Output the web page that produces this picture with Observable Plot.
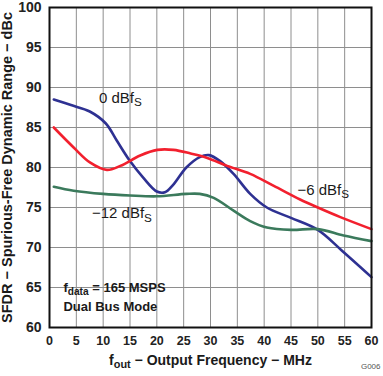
<!DOCTYPE html>
<html>
<head>
<meta charset="utf-8">
<script src="https://cdn.jsdelivr.net/npm/d3@7"></script>
<script src="https://cdn.jsdelivr.net/npm/@observablehq/plot@0.6"></script>
<style>
  html, body { margin: 0; padding: 0; background: #fff; }
  #chart svg { font-family: "Liberation Sans", Arial, sans-serif; display: block; }
  #chart svg [aria-label^="x-axis"] text { font-size: 12.5px; font-weight: bold; fill: #222; }
  #chart svg [aria-label^="y-axis"] text { font-size: 14px; font-weight: bold; fill: #222; }
</style>
</head>
<body>
<div id="chart"></div>
<script>
// ---- data ----
const xTicks = [0, 5, 10, 15, 20, 25, 30, 35, 40, 45, 50, 55, 60];
const yTicks = [60, 65, 70, 75, 80, 85, 90, 95, 100];

const freq0 = [0.8, 4, 7.5, 10.5, 12.5, 15, 17.5, 20, 21.5, 23, 25.5, 28, 29.7, 31.8, 34.3, 37.4, 40.5, 45, 50, 54.5, 60];
const sfdr0 = [88.5, 87.8, 87.0, 85.5, 83.4, 80.8, 78.7, 77.0, 76.9, 77.8, 80.0, 81.3, 81.55, 80.8, 79.2, 76.7, 75.0, 73.7, 72.2, 69.6, 66.3];

const freq6 = [0.8, 4.5, 7.6, 10.7, 13.2, 16.9, 20.1, 23.1, 26.3, 29.4, 33.1, 37.4, 41.8, 46.7, 50, 54.2, 60];
const sfdr6 = [85.0, 82.5, 80.6, 79.7, 80.2, 81.5, 82.2, 82.2, 81.75, 81.2, 80.2, 79.2, 77.7, 76.0, 75.0, 73.8, 72.3];

const freq12 = [0.8, 4.5, 10, 15, 20, 25.5, 28, 30.6, 34.3, 37.4, 40.5, 45, 50, 54.8, 60];
const sfdr12 = [77.6, 77.1, 76.7, 76.5, 76.4, 76.7, 76.7, 76.2, 74.6, 73.3, 72.5, 72.2, 72.3, 71.5, 70.8];

const seriesNames = ["0 dBFS", "-6 dBFS", "-12 dBFS"];
const seriesColors = ["#2e3192", "#f2202e", "#3b7a5c"];

const curveLabels = ["0 dBf_{S}", "\u22126 dBf_{S}", "\u221212 dBf_{S}"];
const curveLabelX = [13.2, 51.0, 13.5];
const curveLabelY = [88.7, 77.2, 74.3];

const noteLines = ["f_{data} = 165 MSPS", "Dual Bus Mode"];
const noteX = [2.6, 2.6];
const noteY = [65.0, 62.6];

const xTitle = "f_{out} \u2212 Output Frequency \u2212 MHz";
const yTitle = "SFDR \u2212 Spurious-Free Dynamic Range \u2212 dBc";
const figId = "G006";

// ---- build tables ----
const rows = [];
[[freq0, sfdr0], [freq6, sfdr6], [freq12, sfdr12]].forEach(([fx, fy], i) => {
  fx.forEach((f, j) => rows.push({series: seriesNames[i], f, v: fy[j]}));
});
const labels = curveLabels.map((t, i) => ({t, x: curveLabelX[i], y: curveLabelY[i]}));
const notes = noteLines.map((t, i) => ({t, x: noteX[i], y: noteY[i]}));

const plot = Plot.plot({
  width: 383,
  height: 376,
  marginLeft: 49,
  marginRight: 12,
  marginTop: 7,
  marginBottom: 49,
  x: {domain: [0, 60], ticks: xTicks, tickSize: 0, tickPadding: 9, label: null, tickFormat: d => d},
  y: {domain: [60, 100], ticks: yTicks, tickSize: 0, tickPadding: 8, label: null, tickFormat: d => d},
  color: {domain: seriesNames, range: seriesColors},
  marks: [
    Plot.ruleX(xTicks, {stroke: "#8e8e8e", strokeWidth: 1}),
    Plot.ruleY(yTicks, {stroke: "#8e8e8e", strokeWidth: 1}),
    Plot.line(rows, {x: "f", y: "v", z: "series", stroke: "series", strokeWidth: 2.6, curve: "catmull-rom"}),
    Plot.text(labels, {x: "x", y: "y", text: "t", fontSize: 15, fill: "#1a1a1a", ariaLabel: "curve-label"}),
    Plot.text(notes, {x: "x", y: "y", text: "t", fontSize: 13, fontWeight: "bold", textAnchor: "start", fill: "#1a1a1a", ariaLabel: "note-label"}),
    Plot.frame({stroke: "#111", strokeWidth: 2}),
    Plot.text([yTitle], {text: d => d, frameAnchor: "left", textAnchor: "middle", lineAnchor: "middle", dx: -42, rotate: -90, fontSize: 14.5, fontWeight: "bold", fill: "#1a1a1a"}),
    Plot.text([xTitle], {text: d => d, frameAnchor: "bottom", textAnchor: "middle", lineAnchor: "middle", dy: 33, fontSize: 14, fontWeight: "bold", fill: "#1a1a1a", ariaLabel: "x-title"}),
    Plot.text([figId], {text: d => d, frameAnchor: "bottom-right", dx: 9, dy: 41, textAnchor: "end", fontSize: 8, fill: "#555"})
  ]
});
document.getElementById("chart").appendChild(plot);

// subscripts: "_{...}"
const svg = d3.select(plot);
svg.selectAll("text").each(function () {
  const txt = this.textContent;
  if (!txt.includes("_{")) return;
  const el = d3.select(this);
  el.text(null);
  const parts = txt.split(/(_\{[^}]*\})/).filter(s => s.length);
  let shifted = false;
  parts.forEach(p => {
    if (p.startsWith("_{")) {
      el.append("tspan").attr("font-size", "0.78em").attr("dy", "0.32em").text(p.slice(2, -1));
      shifted = true;
    } else {
      const ts = el.append("tspan").text(p);
      if (shifted) { ts.attr("dy", "-0.25em"); shifted = false; }
    }
  });
});

// light background boxes behind labels
function boxBehind(sel, padX, padY) {
  svg.selectAll(sel).each(function () {
    const b = this.getBBox();
    const r = document.createElementNS("http://www.w3.org/2000/svg", "rect");
    r.setAttribute("x", b.x - padX);
    r.setAttribute("y", b.y - padY);
    r.setAttribute("width", b.width + 2 * padX);
    r.setAttribute("height", b.height + 2 * padY);
    r.setAttribute("fill", "#f7f7f7");
    r.setAttribute("stroke", "none");
    const t = this.getAttribute("transform");
    if (t) r.setAttribute("transform", t);
    this.parentNode.insertBefore(r, this);
  });
}
boxBehind('[aria-label="curve-label"] text', 5, 2);
boxBehind('[aria-label="note-label"] text', 5, 1);
</script>
</body>
</html>
